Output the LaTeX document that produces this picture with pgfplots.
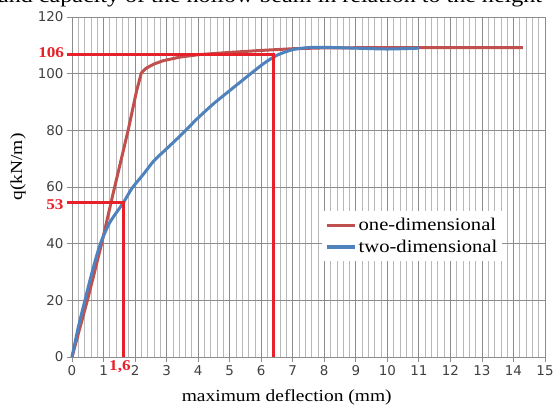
\documentclass[border=0pt]{standalone}
\usepackage{pgfplots}
\pgfplotsset{compat=1.18}
\usepackage{fontspec}
\setmainfont{Liberation Serif}[FakeStretch=1.15]
\newfontfamily\tickfont{DejaVu Sans}
\definecolor{oned}{HTML}{C0504D}
\definecolor{twod}{HTML}{4F81BD}
\definecolor{annot}{HTML}{E8202A}
\definecolor{gridmaj}{HTML}{8C8C8C}
\definecolor{gridmin}{HTML}{B8B8B8}
\begin{document}
\begin{tikzpicture}
\node[anchor=base west, inner sep=0pt, font=\fontsize{21}{22}\selectfont] at (-2bp,413bp) {and capacity of the hollow beam in relation to the height};
\begin{axis}[
  at={(72bp,59bp)}, anchor=south west,
  scale only axis, width=473bp, height=340bp,
  xmin=0, xmax=15, ymin=0, ymax=120,
  xtick={0,1,...,15}, ytick={0,20,...,120},
  minor x tick num=4,
  grid=both,
  major grid style={color=gridmaj, line width=0.8bp},
  minor grid style={color=gridmin, line width=0.7bp},
  axis line style={gridmaj, line width=0.8bp},
  tick style={gridmaj, line width=0.8bp},
  major tick length=5bp, minor tick length=0pt,
  tick align=outside, tick pos=left,
  ticklabel style={font=\tickfont\fontsize{13.5}{15}\selectfont, text=black!75},
  /pgf/number format/assume math mode=true,
  xlabel={maximum deflection (mm)},
  ylabel={q(kN/m)},
  xlabel style={at={(axis description cs:0.454,-0.118)}, anchor=center, font=\fontsize{17}{18}\selectfont},
  ylabel style={at={(axis description cs:-0.114,0.559)}, anchor=center, font=\fontsize{17}{18}\selectfont},
  clip=false,
  legend cell align=left,
  legend style={at={(axis description cs:0.5285,0.429)}, anchor=north west, draw=none, fill=white,
    font=\fontsize{18}{19}\selectfont, inner xsep=3bp, inner ysep=5bp, row sep=4bp},
  legend image code/.code={\draw[#1, line width=3.5bp] (0bp,0bp) -- (28bp,0bp);},
]
\addplot[oned, line width=3bp, line join=round] coordinates {
(0,0) (0.5,20.5) (0.94,40) (1.3,57.5) (1.78,80) (2.05,94) (2.2,100.3) (2.35,101.9) (2.6,103.4) (2.9,104.6) (3.4,105.8) (4,106.7) (5,107.5) (6,108.2) (7,108.8) (8,109.1) (10,109.2) (14.3,109.2)
};
\addlegendentry{one-dimensional}
\addplot[twod, line width=3bp, line join=round, smooth, tension=0.4] coordinates {
(0,0) (0.2,10.5) (0.41,20) (0.65,30.5) (0.9,40) (1.2,47.5) (1.63,54.5) (1.9,59.5) (2.3,65) (2.6,69.3) (3,73.5) (3.5,78.8) (3.96,84) (4.5,89.5) (5.0,94) (5.5,98.5) (6.07,103.5) (6.5,106.5) (7.0,108.5) (7.5,109.2) (8,109.3) (9,109) (10,108.7) (11,109)
};
\addlegendentry{two-dimensional}
\addplot[annot, line width=3bp, forget plot] coordinates {(-0.15,106.6) (6.4,106.6) (6.4,0)};
\addplot[annot, line width=3bp, forget plot] coordinates {(-0.15,54.6) (1.63,54.6) (1.63,0)};
\node[text=annot, font=\bfseries\fontsize{15}{16}\selectfont] at (axis cs:-0.66,107.3) {106};
\node[text=annot, font=\bfseries\fontsize{15}{16}\selectfont] at (axis cs:-0.54,53.7) {53};
\node[text=annot, font=\bfseries\fontsize{15}{16}\selectfont] at (axis cs:1.52,-3.5) {1,6};
\end{axis}
\pgfresetboundingbox
\useasboundingbox (0,0) rectangle (555bp,416bp);
\end{tikzpicture}
\end{document}
